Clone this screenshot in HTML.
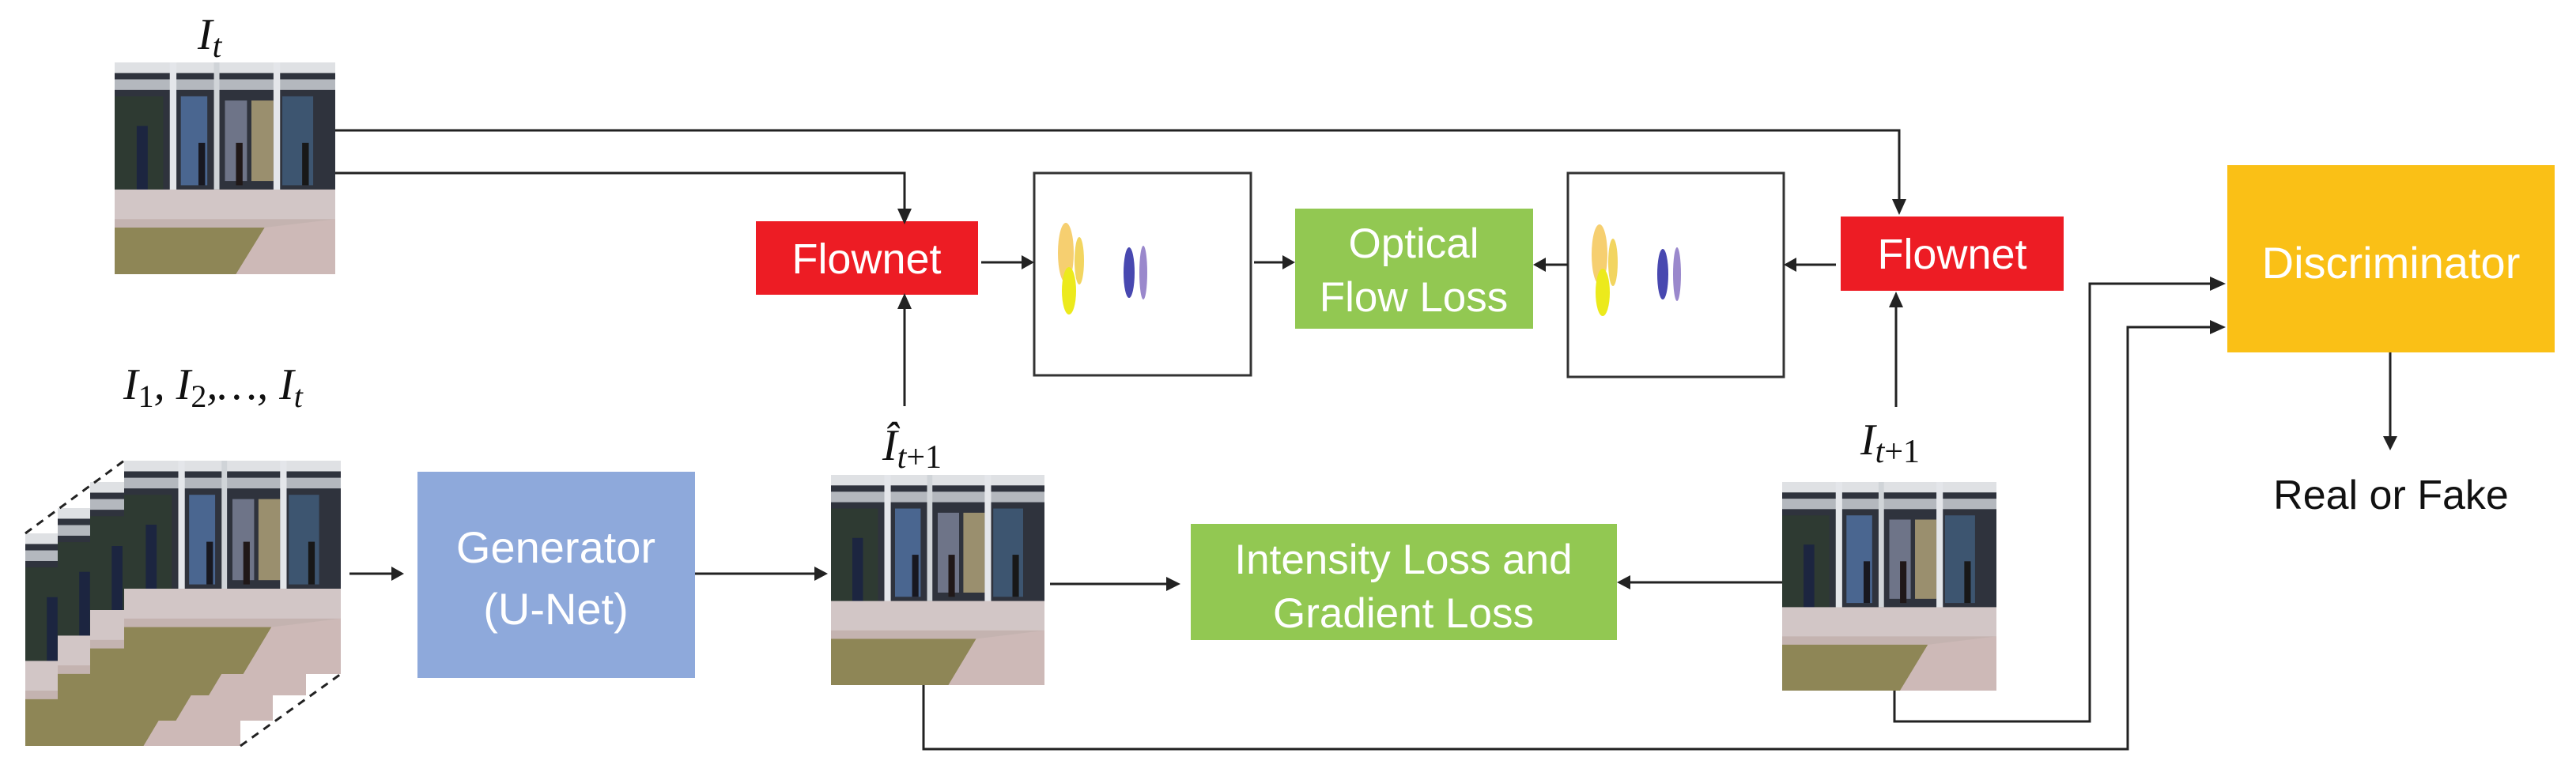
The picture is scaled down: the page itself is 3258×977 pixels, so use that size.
<!DOCTYPE html>
<html><head><meta charset="utf-8"><style>
html,body{margin:0;padding:0;background:#fff;}
body{width:3258px;height:977px;position:relative;overflow:hidden;font-family:"Liberation Sans",sans-serif;}
svg{position:absolute;left:0;top:0;}
</style></head><body>
<svg width="3258" height="977" viewBox="0 0 3258 977" xmlns="http://www.w3.org/2000/svg">
<defs>
<symbol id="photo" viewBox="0 0 100 100" preserveAspectRatio="none">
  <rect x="0" y="0" width="100" height="100" fill="#c4b3b0"/>
  <rect x="0" y="0" width="100" height="62" fill="#2f333d"/>
  <rect x="0" y="0" width="100" height="5" fill="#dfe1e4"/>
  <rect x="0" y="8" width="100" height="5" fill="#b4b8be"/>
  <rect x="30" y="16" width="12" height="42" fill="#4a6690"/>
  <rect x="50" y="18" width="10" height="38" fill="#6e7488"/>
  <rect x="62" y="18" width="10" height="38" fill="#9a8f6e"/>
  <rect x="76" y="16" width="14" height="42" fill="#3d5570"/>
  <rect x="0" y="16" width="22" height="44" fill="#2e3a32"/>
  <rect x="25" y="0" width="3" height="64" fill="#e4e6ea"/>
  <rect x="45" y="0" width="2.5" height="60" fill="#d0d4d8"/>
  <rect x="72" y="0" width="3" height="62" fill="#e4e6ea"/>
  <rect x="10" y="30" width="5" height="34" fill="#1c2540"/>
  <rect x="38" y="38" width="3" height="20" fill="#181820"/>
  <rect x="55" y="38" width="3" height="20" fill="#201818"/>
  <rect x="85" y="38" width="3" height="20" fill="#181818"/>
  <rect x="0" y="60" width="100" height="14" fill="#d2c6c6"/>
  <polygon points="0,78 68,78 55,100 0,100" fill="#8e8656"/>
  <polygon points="68,78 100,74 100,100 55,100" fill="#cdb9b7"/>
</symbol>
</defs>

<use href="#photo" x="145" y="79" width="279" height="268"/>
<use href="#photo" x="32" y="675" width="272" height="269"/>
<use href="#photo" x="73" y="643" width="272" height="269"/>
<use href="#photo" x="114" y="610" width="273" height="270"/>
<use href="#photo" x="157" y="583" width="274" height="270"/>
<line x1="32" y1="675" x2="157" y2="583" stroke="#222" stroke-width="3" stroke-dasharray="10,8"/>
<line x1="304" y1="944" x2="431" y2="853" stroke="#222" stroke-width="3" stroke-dasharray="10,8"/>
<use href="#photo" x="1051" y="601" width="270" height="266"/>
<use href="#photo" x="2254" y="610" width="271" height="264"/>

<rect x="1308" y="219" width="274" height="256" fill="#fff" stroke="#333" stroke-width="3"/>
<ellipse cx="1348" cy="320" rx="10" ry="38" fill="#f6cf70"/>
<ellipse cx="1352" cy="368" rx="9" ry="30" fill="#ecea1c"/>
<ellipse cx="1365" cy="330" rx="6" ry="30" fill="#f2d560"/>
<ellipse cx="1428" cy="345" rx="7" ry="32" fill="#4848b0"/>
<ellipse cx="1446" cy="345" rx="5" ry="34" fill="#9a88cc"/>
<rect x="1983" y="219" width="273" height="258" fill="#fff" stroke="#333" stroke-width="3"/>
<ellipse cx="2023" cy="322" rx="10" ry="38" fill="#f6cf70"/>
<ellipse cx="2027" cy="370" rx="9" ry="30" fill="#ecea1c"/>
<ellipse cx="2040" cy="332" rx="6" ry="30" fill="#f2d560"/>
<ellipse cx="2103" cy="347" rx="7" ry="32" fill="#4848b0"/>
<ellipse cx="2121" cy="347" rx="5" ry="34" fill="#9a88cc"/>

<rect x="956" y="280" width="281" height="93" fill="#ED1C24"/>
<rect x="2328" y="274" width="282" height="94" fill="#ED1C24"/>
<rect x="1638" y="264" width="301" height="152" fill="#92C852"/>
<rect x="1506" y="663" width="539" height="147" fill="#92C852"/>
<rect x="528" y="597" width="351" height="261" fill="#8EA9DB"/>
<rect x="2817" y="209" width="414" height="237" fill="#FAC016"/>

<g fill="#fff" font-family="Liberation Sans, sans-serif" text-anchor="middle">
<text x="1096" y="346" font-size="54">Flownet</text>
<text x="2469" y="340" font-size="54">Flownet</text>
<text x="1788" y="326" font-size="53">Optical</text>
<text x="1788" y="394" font-size="53">Flow Loss</text>
<text x="1775" y="726" font-size="53">Intensity Loss and</text>
<text x="1775" y="794" font-size="53">Gradient Loss</text>
<text x="703" y="712" font-size="56">Generator</text>
<text x="703" y="790" font-size="56">(U-Net)</text>
<text x="3024" y="352" font-size="56">Discriminator</text>
</g>
<text x="3024" y="644" font-size="52" text-anchor="middle" fill="#111">Real or Fake</text>

<g font-family="Liberation Serif, serif" font-style="italic" fill="#111">
<text x="250" y="62" font-size="56">I<tspan font-size="42" dy="10">t</tspan></text>
<text x="156" y="505" font-size="56">I<tspan font-size="40" dy="10" font-style="normal">1</tspan><tspan dy="-10">, I</tspan><tspan font-size="40" dy="10" font-style="normal">2</tspan><tspan dy="-10">,…, I</tspan><tspan font-size="40" dy="10">t</tspan></text>
<text x="1116" y="582" font-size="56">Î<tspan font-size="42" dy="10">t</tspan><tspan font-size="42" font-style="normal">+1</tspan></text>
<text x="2353" y="575" font-size="56">I<tspan font-size="42" dy="10">t</tspan><tspan font-size="42" font-style="normal">+1</tspan></text>
</g>

<g stroke="#222" stroke-width="3" fill="none">
<polyline points="424,165 2402,165 2402,255"/>
<polyline points="424,219 1144,219 1144,267"/>
<line x1="1144" y1="514" x2="1144" y2="388"/>
<line x1="1241" y1="332" x2="1294" y2="332"/>
<line x1="1586" y1="332" x2="1624" y2="332"/>
<line x1="1983" y1="335" x2="1953" y2="335"/>
<line x1="2322" y1="335" x2="2270" y2="335"/>
<line x1="2398" y1="515" x2="2398" y2="386"/>
<line x1="3023" y1="446" x2="3023" y2="555"/>
<line x1="442" y1="726" x2="497" y2="726"/>
<line x1="879" y1="726" x2="1032" y2="726"/>
<line x1="1328" y1="739" x2="1477" y2="739"/>
<line x1="2254" y1="737" x2="2060" y2="737"/>
<polyline points="2396,874 2396,913 2643,913 2643,359 2797,359"/>
<polyline points="1168,867 1168,948 2691,948 2691,414 2797,414"/>
</g>
<g fill="#222">
<polygon points="2393,252 2411,252 2402,272"/>
<polygon points="1135,264 1153,264 1144,284"/>
<polygon points="1135,391 1153,391 1144,371"/>
<polygon points="1292,323 1292,341 1308,332"/>
<polygon points="1622,323 1622,341 1638,332"/>
<polygon points="1955,326 1955,344 1939,335"/>
<polygon points="2272,326 2272,344 2256,335"/>
<polygon points="2389,389 2407,389 2398,369"/>
<polygon points="3014,552 3032,552 3023,570"/>
<polygon points="495,717 495,735 511,726"/>
<polygon points="1030,717 1030,735 1047,726"/>
<polygon points="1475,730 1475,748 1493,739"/>
<polygon points="2062,728 2062,746 2045,737"/>
<polygon points="2795,350 2795,368 2815,359"/>
<polygon points="2795,405 2795,423 2815,414"/>
</g>
</svg>
</body></html>
